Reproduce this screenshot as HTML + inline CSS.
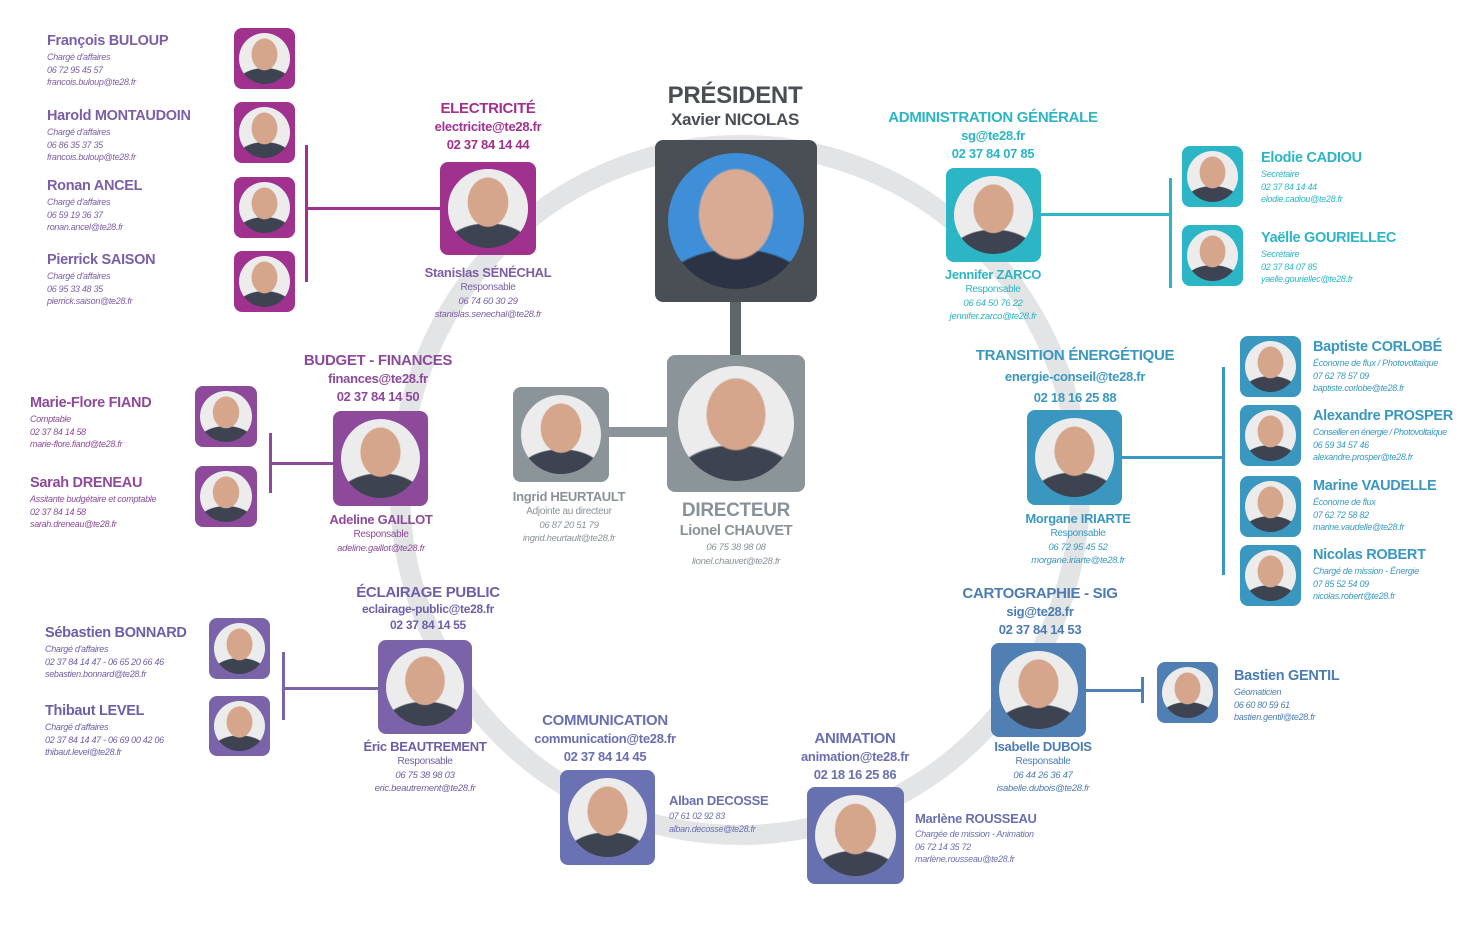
<!DOCTYPE html>
<html><head><meta charset="utf-8"><style>
*{margin:0;padding:0;box-sizing:border-box}
body{width:1472px;height:934px;background:#fff;position:relative;overflow:hidden;font-family:"Liberation Sans",sans-serif;letter-spacing:-0.3px}
.a{position:absolute}
.card{position:absolute;border-radius:8px}
.ph{position:absolute;border-radius:50%;left:8%;top:8%;width:84%;height:84%;background:radial-gradient(ellipse 26% 32% at 50% 42%,#d6a68c 95%,transparent 100%),radial-gradient(ellipse 55% 32% at 50% 100%,#3d4350 95%,transparent 100%),#ececec}
.t{position:absolute;text-align:center;font-weight:bold;line-height:18px;white-space:nowrap;transform:translateX(-50%)}
.t b{display:block;font-size:15px}
.t i{display:block;font-style:normal;font-size:13px}
.n{position:absolute;white-space:nowrap;line-height:12.5px}
.n b{display:block;font-size:14.5px;line-height:19px}
.n i{display:block;font-size:9px}
.c{position:absolute;text-align:center;white-space:nowrap;transform:translateX(-50%);line-height:13.5px}
.c b{display:block;font-size:13px;line-height:17px}
.c span{display:block;font-size:10px}
.c i{display:block;font-size:9.5px}
.ln{position:absolute}
</style></head><body>
<svg class="a" style="left:0;top:0" width="1472" height="934"><ellipse cx="740" cy="490" rx="340" ry="345" fill="none" stroke="#e2e4e5" stroke-width="20"/></svg>

<!-- President -->
<div class="t" style="left:735px;top:83px;color:#4a4f55"><b style="font-size:24px;line-height:26px">PRÉSIDENT</b><b style="font-size:17px;line-height:21px">Xavier NICOLAS</b></div>
<div class="card" style="left:655px;top:140px;width:162px;height:162px;background:#4a4f55"><div class="ph" style="background:radial-gradient(ellipse 28% 34% at 50% 45%,#d9ab95 95%,transparent 100%),radial-gradient(ellipse 55% 30% at 50% 100%,#2c3345 95%,transparent 100%),#3e8fd8"></div></div>
<div class="ln" style="left:730px;top:302px;width:11px;height:54px;background:#5d666b"></div>
<div class="card" style="left:667px;top:355px;width:138px;height:137px;background:#8a9499"><div class="ph"></div></div>
<div class="c" style="left:736px;top:500px;color:#8a9297"><b style="font-size:19px;line-height:22px">DIRECTEUR</b><b style="font-size:14.5px;line-height:19px">Lionel CHAUVET</b><i>06 75 38 98 08</i><i>lionel.chauvet@te28.fr</i></div>
<div class="ln" style="left:609px;top:427px;width:58px;height:10px;background:#8a9499"></div>
<div class="card" style="left:513px;top:387px;width:96px;height:95px;background:#8a9499"><div class="ph"></div></div>
<div class="c" style="left:569px;top:488px;color:#8a9297"><b>Ingrid HEURTAULT</b><span>Adjointe au directeur</span><i>06 87 20 51 79</i><i>ingrid.heurtault@te28.fr</i></div>

<!-- Electricite -->
<div class="t" style="left:488px;top:100px;color:#a0318f"><b>ELECTRICITÉ</b><i>electricite@te28.fr</i><i>02 37 84 14 44</i></div>
<div class="card" style="left:440px;top:162px;width:96px;height:93px;background:#a0318f"><div class="ph"></div></div>
<div class="c" style="left:488px;top:264px;color:#7b5ea6"><b>Stanislas SÉNÉCHAL</b><span>Responsable</span><i>06 74 60 30 29</i><i>stanislas.senechal@te28.fr</i></div>
<div class="ln" style="left:307px;top:207px;width:133px;height:3px;background:#a0318f"></div>
<div class="ln" style="left:305px;top:145px;width:3px;height:137px;background:#a0318f"></div>
<div class="card" style="left:234px;top:28px;width:61px;height:61px;background:#a0318f"><div class="ph"></div></div>
<div class="card" style="left:234px;top:102px;width:61px;height:61px;background:#a0318f"><div class="ph"></div></div>
<div class="card" style="left:234px;top:177px;width:61px;height:61px;background:#a0318f"><div class="ph"></div></div>
<div class="card" style="left:234px;top:251px;width:61px;height:61px;background:#a0318f"><div class="ph"></div></div>
<div class="n" style="left:47px;top:32px;color:#7b5ea6"><b>François BULOUP</b><i>Chargé d'affaires</i><i>06 72 95 45 57</i><i>francois.buloup@te28.fr</i></div>
<div class="n" style="left:47px;top:107px;color:#7b5ea6"><b>Harold MONTAUDOIN</b><i>Chargé d'affaires</i><i>06 86 35 37 35</i><i>francois.buloup@te28.fr</i></div>
<div class="n" style="left:47px;top:177px;color:#7b5ea6"><b>Ronan ANCEL</b><i>Chargé d'affaires</i><i>06 59 19 36 37</i><i>ronan.ancel@te28.fr</i></div>
<div class="n" style="left:47px;top:251px;color:#7b5ea6"><b>Pierrick SAISON</b><i>Chargé d'affaires</i><i>06 95 33 48 35</i><i>pierrick.saison@te28.fr</i></div>

<!-- Admin -->
<div class="t" style="left:993px;top:109px;color:#2bb5c5"><b>ADMINISTRATION GÉNÉRALE</b><i>sg@te28.fr</i><i>02 37 84 07 85</i></div>
<div class="card" style="left:946px;top:168px;width:95px;height:94px;background:#2bb5c5"><div class="ph"></div></div>
<div class="c" style="left:993px;top:266px;color:#2bb5c5"><b>Jennifer ZARCO</b><span>Responsable</span><i>06 64 50 76 22</i><i>jennifer.zarco@te28.fr</i></div>
<div class="ln" style="left:1041px;top:213px;width:130px;height:3px;background:#2bb5c5"></div>
<div class="ln" style="left:1169px;top:178px;width:3px;height:110px;background:#2bb5c5"></div>
<div class="card" style="left:1182px;top:146px;width:61px;height:61px;background:#2bb5c5"><div class="ph"></div></div>
<div class="card" style="left:1182px;top:225px;width:61px;height:61px;background:#2bb5c5"><div class="ph"></div></div>
<div class="n" style="left:1261px;top:149px;color:#2bb5c5"><b>Elodie CADIOU</b><i>Secrétaire</i><i>02 37 84 14 44</i><i>elodie.cadiou@te28.fr</i></div>
<div class="n" style="left:1261px;top:229px;color:#2bb5c5"><b>Yaëlle GOURIELLEC</b><i>Secrétaire</i><i>02 37 84 07 85</i><i>yaelle.gouriellec@te28.fr</i></div>

<!-- Budget -->
<div class="t" style="left:378px;top:352px;color:#8d4a9b"><b>BUDGET - FINANCES</b><i>finances@te28.fr</i><i>02 37 84 14 50</i></div>
<div class="card" style="left:333px;top:411px;width:95px;height:95px;background:#8d4a9b"><div class="ph"></div></div>
<div class="c" style="left:381px;top:511px;color:#8d4a9b"><b>Adeline GAILLOT</b><span>Responsable</span><i>adeline.gaillot@te28.fr</i></div>
<div class="ln" style="left:270px;top:462px;width:63px;height:3px;background:#8d4a9b"></div>
<div class="ln" style="left:269px;top:433px;width:3px;height:60px;background:#8d4a9b"></div>
<div class="card" style="left:195px;top:386px;width:62px;height:61px;background:#8d4a9b"><div class="ph"></div></div>
<div class="card" style="left:195px;top:466px;width:62px;height:61px;background:#8d4a9b"><div class="ph"></div></div>
<div class="n" style="left:30px;top:394px;color:#8d4a9b"><b>Marie-Flore FIAND</b><i>Comptable</i><i>02 37 84 14 58</i><i>marie-flore.fiand@te28.fr</i></div>
<div class="n" style="left:30px;top:474px;color:#8d4a9b"><b>Sarah DRENEAU</b><i>Assitante budgétaire et comptable</i><i>02 37 84 14 58</i><i>sarah.dreneau@te28.fr</i></div>

<!-- Transition -->
<div class="t" style="left:1075px;top:347px;color:#3a98c0"><b>TRANSITION ÉNERGÉTIQUE</b><i style="margin-top:3px">energie-conseil@te28.fr</i><i style="margin-top:3px">02 18 16 25 88</i></div>
<div class="card" style="left:1027px;top:410px;width:95px;height:95px;background:#3a98c0"><div class="ph"></div></div>
<div class="c" style="left:1078px;top:510px;color:#3a98c0"><b>Morgane IRIARTE</b><span>Responsable</span><i>06 72 95 45 52</i><i>morgane.iriarte@te28.fr</i></div>
<div class="ln" style="left:1122px;top:456px;width:102px;height:3px;background:#3a98c0"></div>
<div class="ln" style="left:1222px;top:367px;width:3px;height:208px;background:#3a98c0"></div>
<div class="card" style="left:1240px;top:336px;width:61px;height:61px;background:#3a98c0"><div class="ph"></div></div>
<div class="card" style="left:1240px;top:405px;width:61px;height:61px;background:#3a98c0"><div class="ph"></div></div>
<div class="card" style="left:1240px;top:476px;width:61px;height:61px;background:#3a98c0"><div class="ph"></div></div>
<div class="card" style="left:1240px;top:545px;width:61px;height:61px;background:#3a98c0"><div class="ph"></div></div>
<div class="n" style="left:1313px;top:338px;color:#3a98c0"><b>Baptiste CORLOBÉ</b><i>Économe de flux / Photovoltaïque</i><i>07 62 78 57 09</i><i>baptiste.corlobe@te28.fr</i></div>
<div class="n" style="left:1313px;top:407px;color:#3a98c0"><b>Alexandre PROSPER</b><i style="letter-spacing:-0.5px">Conseiller en énergie / Photovoltaïque</i><i>06 59 34 57 46</i><i>alexandre.prosper@te28.fr</i></div>
<div class="n" style="left:1313px;top:477px;color:#3a98c0"><b>Marine VAUDELLE</b><i>Économe de flux</i><i>07 62 72 58 82</i><i>marine.vaudelle@te28.fr</i></div>
<div class="n" style="left:1313px;top:546px;color:#3a98c0"><b>Nicolas ROBERT</b><i>Chargé de mission - Énergie</i><i>07 85 52 54 09</i><i>nicolas.robert@te28.fr</i></div>

<!-- Eclairage -->
<div class="t" style="left:428px;top:585px;color:#6b5fa7;line-height:16px"><b>ÉCLAIRAGE PUBLIC</b><i style="font-size:12px">eclairage-public@te28.fr</i><i style="font-size:12px">02 37 84 14 55</i></div>
<div class="card" style="left:378px;top:640px;width:94px;height:94px;background:#7a63a8"><div class="ph"></div></div>
<div class="c" style="left:425px;top:738px;color:#6b5fa7"><b>Éric BEAUTREMENT</b><span>Responsable</span><i>06 75 38 98 03</i><i>eric.beautrement@te28.fr</i></div>
<div class="ln" style="left:283px;top:687px;width:95px;height:3px;background:#7a63a8"></div>
<div class="ln" style="left:282px;top:652px;width:3px;height:68px;background:#7a63a8"></div>
<div class="card" style="left:209px;top:618px;width:61px;height:61px;background:#7a63a8"><div class="ph"></div></div>
<div class="card" style="left:209px;top:696px;width:61px;height:60px;background:#7a63a8"><div class="ph"></div></div>
<div class="n" style="left:45px;top:624px;color:#6b5fa7"><b>Sébastien BONNARD</b><i>Chargé d'affaires</i><i>02 37 84 14 47 - 06 65 20 66 46</i><i>sebastien.bonnard@te28.fr</i></div>
<div class="n" style="left:45px;top:702px;color:#6b5fa7"><b>Thibaut LEVEL</b><i>Chargé d'affaires</i><i>02 37 84 14 47 - 06 69 00 42 06</i><i>thibaut.level@te28.fr</i></div>

<!-- Cartographie -->
<div class="t" style="left:1040px;top:585px;color:#4c7cb3"><b>CARTOGRAPHIE - SIG</b><i>sig@te28.fr</i><i>02 37 84 14 53</i></div>
<div class="card" style="left:991px;top:643px;width:95px;height:94px;background:#4f7fb3"><div class="ph"></div></div>
<div class="c" style="left:1043px;top:738px;color:#4c7cb3"><b>Isabelle DUBOIS</b><span>Responsable</span><i>06 44 26 36 47</i><i>isabelle.dubois@te28.fr</i></div>
<div class="ln" style="left:1086px;top:689px;width:58px;height:3px;background:#4f7fb3"></div>
<div class="ln" style="left:1141px;top:677px;width:3px;height:26px;background:#4f7fb3"></div>
<div class="card" style="left:1157px;top:662px;width:61px;height:61px;background:#4f7fb3"><div class="ph"></div></div>
<div class="n" style="left:1234px;top:667px;color:#4c7cb3"><b>Bastien GENTIL</b><i>Géomaticien</i><i>06 60 80 59 61</i><i>bastien.gentil@te28.fr</i></div>

<!-- Communication -->
<div class="t" style="left:605px;top:712px;color:#6a6fb0"><b>COMMUNICATION</b><i>communication@te28.fr</i><i>02 37 84 14 45</i></div>
<div class="card" style="left:560px;top:770px;width:95px;height:95px;background:#6a72b4"><div class="ph"></div></div>
<div class="n" style="left:669px;top:791px;color:#6a6fb0"><b style="font-size:13px">Alban DECOSSE</b><i>07 61 02 92 83</i><i>alban.decosse@te28.fr</i></div>

<!-- Animation -->
<div class="t" style="left:855px;top:730px;color:#6a6fb0"><b>ANIMATION</b><i>animation@te28.fr</i><i>02 18 16 25 86</i></div>
<div class="card" style="left:807px;top:787px;width:97px;height:97px;background:#6871b0"><div class="ph"></div></div>
<div class="n" style="left:915px;top:809px;color:#6a6fb0"><b style="font-size:13px">Marlène ROUSSEAU</b><i>Chargée de mission - Animation</i><i>06 72 14 35 72</i><i>marlène.rousseau@te28.fr</i></div>
</body></html>
